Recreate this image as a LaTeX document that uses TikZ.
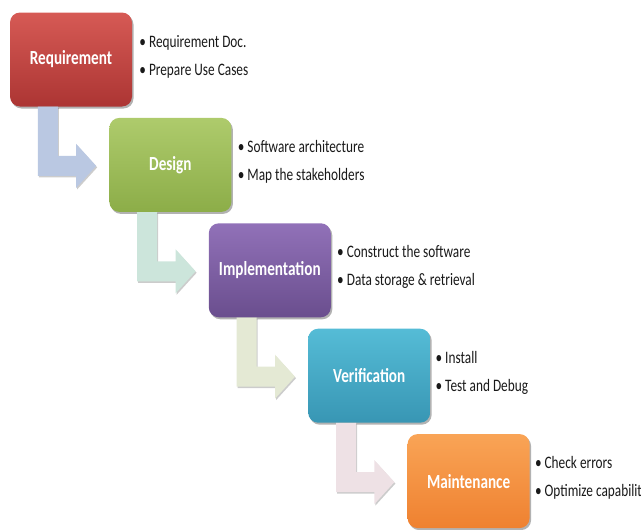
\documentclass[tikz,border=0pt]{standalone}
\usepackage{fontspec}
\setmainfont{Carlito}[FakeStretch=0.76]
\usetikzlibrary{positioning, calc, shadows}
\definecolor{reqtop}{HTML}{D65A55}
\definecolor{reqbot}{HTML}{AC3533}
\definecolor{destop}{HTML}{AECB6C}
\definecolor{desbot}{HTML}{8CAD48}
\definecolor{imptop}{HTML}{9171B8}
\definecolor{impbot}{HTML}{6A4E8E}
\definecolor{vertop}{HTML}{55BCD6}
\definecolor{verbot}{HTML}{3896B4}
\definecolor{maitop}{HTML}{F9A456}
\definecolor{maibot}{HTML}{EF8130}
\definecolor{arrA}{HTML}{BAC8E2}
\definecolor{arrB}{HTML}{CCE5DB}
\definecolor{arrC}{HTML}{E4E9D4}
\definecolor{arrD}{HTML}{EEE1E5}
\tikzset{
  stage/.style={rounded corners=10pt, minimum width=122pt, minimum height=94pt, inner sep=0pt, text=white, font=\bfseries\fontsize{20}{24}\selectfont, drop shadow={shadow xshift=1.5pt, shadow yshift=-2pt, opacity=0.3, fill=black}},
  notes/.style={align=left, inner sep=0pt, yshift=3pt, text=black!90, font=\fontsize{17.5}{28}\selectfont},
  bend/.style={fill=#1, drop shadow={shadow xshift=1pt, shadow yshift=-1.5pt, opacity=0.2, fill=black}},
}
% L-shaped arrow from below one stage to the left side of the next
\newcommand{\bentarrow}[3]{%
  \path[bend=#3] let \p1=(#1.south west), \p2=(#2.west) in
    (\x1+28pt,\y1) -- (\x1+28pt,\y2-11pt) -- (\x2-33pt,\y2-11pt) -- (\x2-33pt,\y2-23pt)
    -- (\x2-13pt,\y2-1pt) -- (\x2-33pt,\y2+21pt) -- (\x2-33pt,\y2+9pt)
    -- (\x1+48pt,\y2+9pt) -- (\x1+48pt,\y1) -- cycle;}

\begin{document}
\begin{tikzpicture}[x=1pt, y=-1pt]
  \useasboundingbox (0,0) rectangle (641,530);

  \node[stage, top color=reqtop, bottom color=reqbot] (req) at (71,59.5) {Requirement};
  \node[stage, top color=destop, bottom color=desbot, below right=11pt and -23pt of req] (des) {Design};
  \node[stage, top color=imptop, bottom color=impbot, below right=11pt and -23pt of des] (imp) {Implementation};
  \node[stage, top color=vertop, bottom color=verbot, below right=11pt and -23pt of imp] (ver) {Verification};
  \node[stage, top color=maitop, bottom color=maibot, below right=11pt and -23pt of ver] (mai) {Maintenance};

  \node[notes, right=7pt of req] (reqnotes) {\textbullet\ Requirement Doc.\\ \textbullet\ Prepare Use Cases};
  \node[notes, right=6pt of des] (desnotes) {\textbullet\ Software architecture\\ \textbullet\ Map the stakeholders};
  \node[notes, right=6pt of imp] (impnotes) {\textbullet\ Construct the software\\ \textbullet\ Data storage \& retrieval};
  \node[notes, right=5pt of ver] (vernotes) {\textbullet\ Install\\ \textbullet\ Test and Debug};
  \node[notes, right=5pt of mai] (mainotes) {\textbullet\ Check errors\\ \textbullet\ Optimize capabilities};

  \bentarrow{req}{des}{arrA}
  \bentarrow{des}{imp}{arrB}
  \bentarrow{imp}{ver}{arrC}
  \bentarrow{ver}{mai}{arrD}
\end{tikzpicture}
\end{document}
